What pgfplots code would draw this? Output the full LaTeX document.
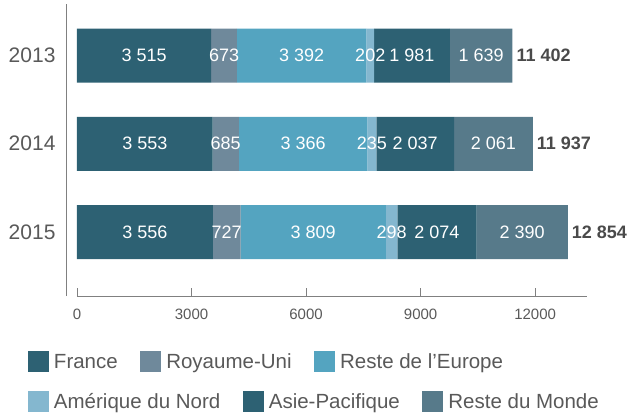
\documentclass[border=0pt]{standalone}
\usepackage{pgfplots}
\pgfplotsset{compat=1.18}
\usepackage{pgfplotstable}
\usepackage{fontspec}
\setmainfont{Liberation Sans}

\definecolor{cFR}{HTML}{2D6173}
\definecolor{cRU}{HTML}{6F899B}
\definecolor{cEU}{HTML}{54A4C0}
\definecolor{cNA}{HTML}{84B7CF}
\definecolor{cAP}{HTML}{2D6173}
\definecolor{cRW}{HTML}{577A8A}
\definecolor{txt}{HTML}{595959}
\definecolor{tot}{HTML}{4A4A4A}
\definecolor{axc}{HTML}{808080}

% Chiffre d'affaires par zone (pos 2 = 2013, 1 = 2014, 0 = 2015)
\pgfplotstableread{
pos fr   ru  eu   na  ap   rw   total
2   3515 673 3392 202 1981 1639 11402
1   3553 685 3366 235 2037 2061 11937
0   3556 727 3809 298 2074 2390 12854
}\ventes

\pgfplotsset{
  frame/.style={
    scale only axis,
    x=0.0381737pt, y=88.25pt,
    xmin=0, xmax=13360,
    ymin=-0.725, ymax=2.5836,
    clip=false,
  },
  legsquare/.style={
    legend image code/.code={\fill[##1] (0pt,-3.3pt) rectangle (21pt,17.7pt);}
  },
  legrow/.style={
    legend columns=-1,
    legend style={
      at={(axis description cs:0,0)}, anchor=north west,
      xshift=-49pt, yshift=#1,
      draw=none, fill=none, inner sep=0pt, outer sep=0pt,
      column sep=0pt,
      font=\fontsize{20.5}{24}\selectfont, text=txt,
      nodes={inner xsep=5pt, inner ysep=0pt, anchor=base west},
      /tikz/every even column/.append style={column sep=17.5pt},
    },
  },
}

\begin{document}
\begin{tikzpicture}
\begin{axis}[
  name=main,
  at={(0pt,0pt)}, anchor=south west,
  frame,
  xbar stacked, bar width=54pt,
  axis x line=bottom, axis y line=left,
  axis line style={-, draw=axc, line width=0.8pt},
  y axis line style={draw=none},
  ytick={0,1,2}, yticklabels={2015,2014,2013},
  ytick style={draw=none},
  xtick={0,3000,6000,9000,12000},
  scaled x ticks=false,
  tick align=inside, major tick length=8pt,
  xtick style={draw=axc, line width=0.8pt},
  /pgf/number format/assume math mode=true,
  /pgf/number format/1000 sep={},
  xticklabel style={font=\fontsize{15}{18}\selectfont, text=txt, yshift=-9pt},
  yticklabel style={font=\fontsize{21}{25}\selectfont, text=txt, xshift=-18pt},
  point meta=explicit,
  nodes near coords={\pgfmathprintnumber[assume math mode=true, 1000 sep={\ }]{\pgfplotspointmeta}},
  every node near coord/.style={font=\fontsize{18}{21}\selectfont, text=white, anchor=center},
  legsquare, legrow=-55pt,
]
\addplot[fill=cFR, draw=none] table[x=fr, y=pos, meta=fr] {\ventes};
\addplot[fill=cRU, draw=none] table[x=ru, y=pos, meta=ru] {\ventes};
\addplot[fill=cEU, draw=none] table[x=eu, y=pos, meta=eu] {\ventes};
\addplot[fill=cNA, draw=none] table[x=na, y=pos, meta=na] {\ventes};
\addplot[fill=cAP, draw=none] table[x=ap, y=pos, meta=ap] {\ventes};
\addplot[fill=cRW, draw=none] table[x=rw, y=pos, meta=rw] {\ventes};
\legend{France, Royaume-Uni, Reste de l’Europe}
\end{axis}

% second layer: bar totals and the second legend row
\begin{axis}[
  at={(main.south west)}, anchor=south west,
  frame,
  hide axis,
  legsquare, legrow=-95pt,
]
\addlegendimage{fill=cNA, draw=none}
\addlegendentry{Amérique du Nord}
\addlegendimage{fill=cAP, draw=none}
\addlegendentry{Asie-Pacifique}
\addlegendimage{fill=cRW, draw=none}
\addlegendentry{Reste du Monde}
\addplot[draw=none, mark=none, forget plot,
  point meta=explicit,
  nodes near coords={\pgfmathprintnumber[assume math mode=true, 1000 sep={\ }]{\pgfplotspointmeta}},
  every node near coord/.style={anchor=west, inner xsep=0pt, xshift=4pt, text=tot,
    font=\fontsize{18}{21}\selectfont\bfseries}]
  table[x=total, y=pos, meta=total] {\ventes};
\end{axis}

% separating rule left of the bars
\draw[axc, line width=0.8pt] ([xshift=-11pt]main.south west) -- ([xshift=-11pt]main.north west);
% page area
\path ([xshift=-77pt, yshift=-120pt]main.south west) rectangle ++(629pt,416pt);
\end{tikzpicture}
\end{document}
